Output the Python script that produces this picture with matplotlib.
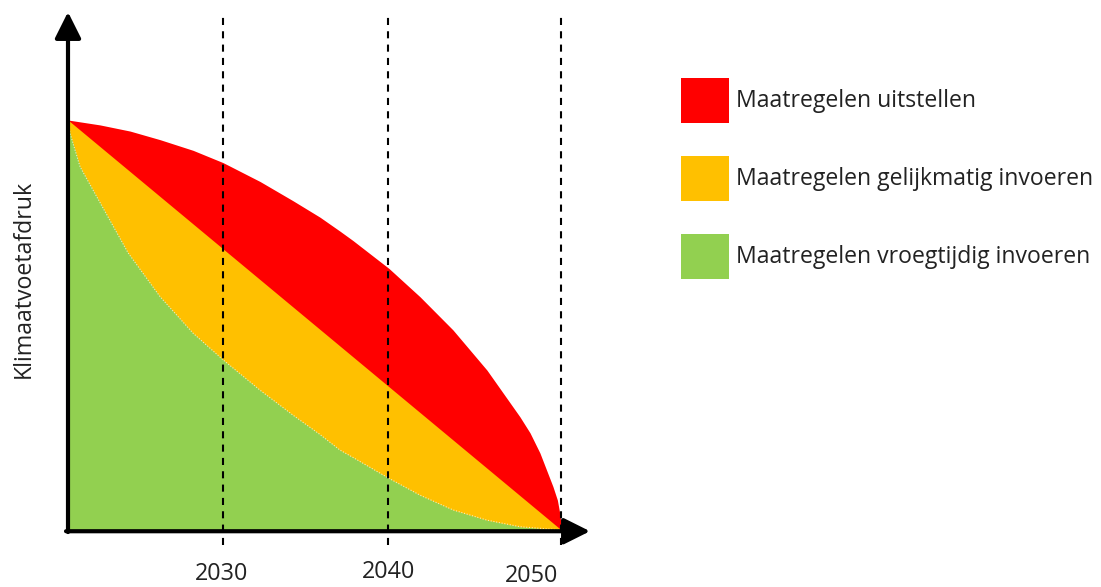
import matplotlib
matplotlib.use("Agg")
import matplotlib.pyplot as plt
from matplotlib.patches import Patch

plt.rcParams['font.family'] = ['Open Sans', 'DejaVu Sans']

# data (x in years, y in relative footprint, start = 100)
START_YEAR = 2020.6
END_YEAR = 2050.5

red_years = [2020.6, 2022.54, 2024.36, 2026.18, 2028.18, 2030.0, 2032.24, 2034.24, 2035.87,
             2037.08, 2037.87, 2040.05, 2041.93, 2043.93, 2045.99, 2047.99, 2048.6, 2049.2,
             2049.99, 2050.26, 2050.42, 2050.5]
red_values = [100, 98.8, 97.3, 95.2, 92.6, 89.6, 85.0, 80.3, 76.3,
              72.9, 70.6, 63.8, 56.9, 48.8, 39.0, 27.6, 23.7, 18.8,
              10.6, 7.3, 3.7, 0]

orange_years = [START_YEAR, END_YEAR]
orange_values = [100, 0]

green_years = [2020.6, 2020.72, 2021.33, 2022.34, 2024.24, 2026.18, 2028.18, 2030.0, 2032.24,
               2034.24, 2035.87, 2037.08, 2037.87, 2040.05, 2041.93, 2043.93, 2045.99, 2047.99, 2050.5]
green_values = [100, 96.8, 88.6, 81.3, 67.6, 56.9, 48.0, 41.5, 34.1,
                28.0, 23.3, 19.5, 17.7, 12.6, 8.5, 4.9, 2.4, 0.8, 0]

marker_years = [2030, 2040, 2050.5]
year_labels = ['2030', '2040', '2050']
label_years = [2029.9, 2040.0, 2048.7]

legend_labels = ['Maatregelen uitstellen',
                 'Maatregelen gelijkmatig invoeren',
                 'Maatregelen vroegtijdig invoeren']
colors = ['#FF0000', '#FFC000', '#92D050']

# layout: one axes over the whole figure, 16.5 px per year and 4.1 px per unit
W, H = 1101, 587
PX_YEAR, PX_UNIT = 16.5, 4.1
X0_PX, Y0_PX = 68, 530
TEXT_COLOR = '#222222'

fig = plt.figure(figsize=(W / 100, H / 100), dpi=100)
ax = fig.add_axes([0, 0, 1, 1])
ax.set_xlim(START_YEAR - X0_PX / PX_YEAR, START_YEAR + (W - X0_PX) / PX_YEAR)
ax.set_ylim((Y0_PX - H) / PX_UNIT, Y0_PX / PX_UNIT)
ax.axis('off')

ax.fill_between(red_years, 0, red_values, color=colors[0], lw=0, zorder=1)
ax.fill_between(orange_years, 0, orange_values, color=colors[1], lw=0, zorder=2)
ax.fill_between(green_years, 0, green_values, color=colors[2], lw=0, zorder=3)
ax.plot(green_years, green_values, color='white', lw=0.8, ls=(0, (1, 1.5)), alpha=0.7, zorder=4)

top = (Y0_PX - 13) / PX_UNIT
bottom = (Y0_PX - 545) / PX_UNIT
ax.vlines(marker_years, bottom, top, colors='black', lw=1.5, linestyles=[(0, (3.4, 3.0))], zorder=5)

label_y = [(Y0_PX - 574) / PX_UNIT, (Y0_PX - 572) / PX_UNIT, (Y0_PX - 576) / PX_UNIT]
for x, y, lab in zip(label_years, label_y, year_labels):
    ax.text(x, y, lab, ha='center', va='center', fontsize=16.8, color=TEXT_COLOR)

# axes with arrow heads
arrow = dict(arrowstyle='-|>,head_length=0.4,head_width=0.2', lw=3, color='black',
             mutation_scale=40, shrinkA=0, shrinkB=0)
ax.annotate('', xy=(START_YEAR, (Y0_PX - 12) / PX_UNIT), xytext=(START_YEAR, -0.5),
            arrowprops=arrow, zorder=6)
ax.annotate('', xy=(START_YEAR + (590 - X0_PX) / PX_YEAR, -0.3), xytext=(START_YEAR - 0.12, -0.3),
            arrowprops=arrow, zorder=6)

ax.text(START_YEAR - 44 / PX_YEAR, (Y0_PX - 279) / PX_UNIT, 'Klimaatvoetafdruk',
        rotation=90, ha='center', va='center', fontsize=16.7, color=TEXT_COLOR)

# legend: squares 48x45 px, 78 px apart
handles = [Patch(facecolor=c, edgecolor='none') for c in colors]
fs = 16.6
fs_px = fs * 100 / 72
hh = (45 / fs_px - 0.245) / 0.65
ax.legend(handles, legend_labels, loc='upper left',
          bbox_to_anchor=(681 / W, 1 - 78 / H), bbox_transform=fig.transFigure,
          frameon=False, fontsize=fs, borderpad=0, borderaxespad=0,
          handlelength=48 / fs_px, handleheight=hh,
          labelspacing=33 / fs_px, handletextpad=7 / fs_px, labelcolor=TEXT_COLOR)

fig.savefig('out.png', dpi=100)
